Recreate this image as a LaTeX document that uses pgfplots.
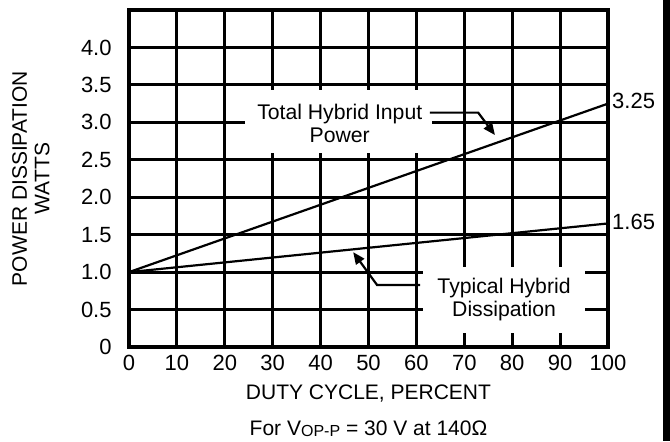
\documentclass[border=0pt]{standalone}
\usepackage{fontspec}
\setmainfont{Liberation Sans}
\usepackage{pgfplots}
\pgfplotsset{compat=1.18}
\usetikzlibrary{arrows.meta}
\begin{document}
\fontsize{10.5}{12.6}\selectfont
\begin{tikzpicture}
\begin{axis}[
  name=ax, at={(0,0)}, anchor=south west,
  scale only axis, width=239.5pt, height=168.5pt,
  xmin=0, xmax=100, ymin=0, ymax=4.5,
  xtick={0,10,20,30,40,50,60,70,80,90,100},
  xticklabels={0,10,20,30,40,50,60,70,80,90,100},
  ytick={0,0.5,1,1.5,2,2.5,3,3.5,4},
  yticklabels={0,0.5,1.0,1.5,2.0,2.5,3.0,3.5,4.0},
  /pgf/number format/assume math mode=true,
  ticklabel style={font=\fontsize{11}{12}\selectfont},
  yticklabel style={xshift=-5pt},
  xticklabel style={yshift=-0.5pt},
  grid=major,
  major grid style={black, line width=1.5pt},
  axis line style={black, line width=1.8pt, line join=miter},
  major tick length=0pt,
  tick style={draw=none},
  clip=false,
  xlabel={DUTY CYCLE, PERCENT},
  xlabel style={at={(axis description cs:0.5,-0.137)}, anchor=center},
  ylabel={POWER DISSIPATION\\WATTS},
  ylabel style={at={(axis description cs:-0.205,0.5)}, anchor=center, rotate=0, align=center, font=\fontsize{10.5}{11.25}\selectfont},
]
% label boxes (white, interrupt the grid)
\fill[white] (axis cs:24.2,2.59) rectangle (axis cs:63.3,3.43);
\fill[white] (axis cs:61.4,0.187) rectangle (axis cs:95.2,1.067);

\addplot[black, line width=1.1pt] coordinates {(0,1.0) (100,3.25)};
\addplot[black, line width=1.1pt] coordinates {(0,1.0) (100,1.65)};

\node[anchor=west, inner sep=0pt, font=\fontsize{11}{12}\selectfont] at (axis cs:100.8,3.29) {3.25};
\node[anchor=west, inner sep=0pt, font=\fontsize{11}{12}\selectfont] at (axis cs:100.8,1.67) {1.65};

\node[align=center, font=\fontsize{10.6}{11.5}\selectfont] at (axis cs:44,2.98) {Total Hybrid Input\\Power};
\node[align=center, font=\fontsize{10.6}{11.5}\selectfont] at (axis cs:78.3,0.64) {Typical Hybrid\\Dissipation};

\draw[black, line width=1.1pt, -{Triangle[length=6pt,width=5pt]}]
  (axis cs:62.8,3.13) -- (axis cs:72.9,3.13) -- (axis cs:76.4,2.83);
\draw[black, line width=1.1pt, -{Triangle[length=6pt,width=5pt]}]
  (axis cs:60.8,0.827) -- (axis cs:51.8,0.827) -- (axis cs:46.8,1.267);

\node at (axis description cs:0.5,-0.243) {For V\raisebox{-0.6pt}{\fontsize{8}{8}\selectfont OP-P} = 30 V at 140Ω};
\end{axis}
\fill[black] (267pt,-47pt) rectangle (270.5pt,173.5pt);
\pgfresetboundingbox
\useasboundingbox (-64.5pt,-47pt) rectangle (270.5pt,173.5pt);
\end{tikzpicture}
\end{document}
